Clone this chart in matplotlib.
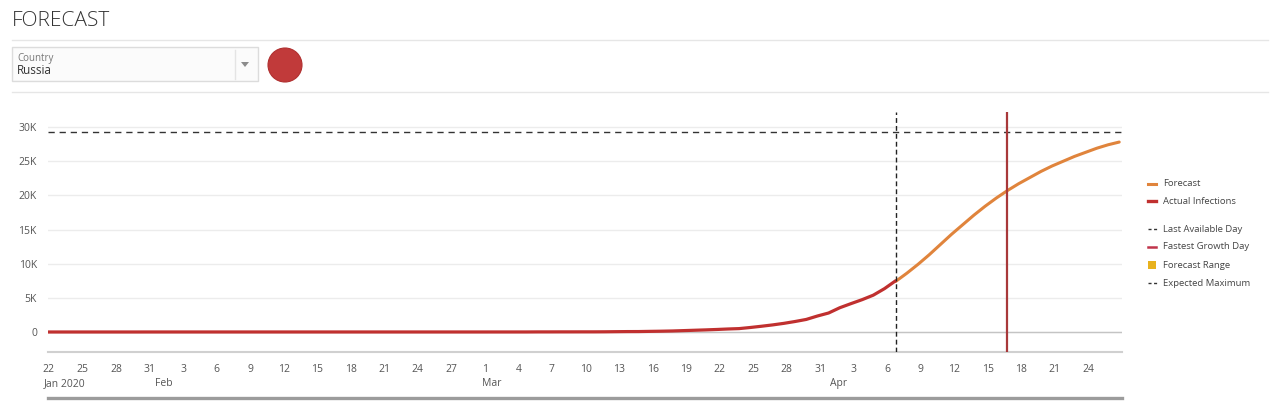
import matplotlib
matplotlib.use("Agg")
import matplotlib.pyplot as plt
from matplotlib.lines import Line2D
from matplotlib.patches import Rectangle, Ellipse, Polygon
import pandas as pd

plt.rcParams['font.family'] = ['Open Sans', 'DejaVu Sans']

# ---------------- data ----------------
# Actual confirmed infections, Russia, daily from 22 Jan 2020 to 7 Apr 2020
actual_start = '2020-01-21 18:00'   # series timestamps are shown 6 h earlier (time-zone shift)
actual_values = [0, 0, 0, 0, 0, 0, 0, 0, 0, 2,
                 2, 2, 2, 2, 2, 2, 2, 2, 2, 2, 2, 2, 2, 2, 2,
                 2, 2, 2, 2, 2, 2, 2, 2, 2, 2, 2, 2, 2, 2,
                 2, 3, 3, 3, 4, 13, 13, 17, 17, 20, 20, 28, 45, 59, 63, 90,
                 114, 147, 199, 253, 306, 367, 438, 495, 658, 840, 1036, 1264,
                 1534, 1836, 2337,
                 2777, 3548, 4149, 4731, 5389, 6343, 7497]
# Forecast, daily from 7 Apr to 27 Apr 2020
forecast_start = '2020-04-06 18:00'
forecast_values = [7400, 8600, 9900, 11300, 12800, 14300, 15700, 17100, 18400,
                   19600, 20700, 21700, 22600, 23500, 24300, 25000, 25700,
                   26300, 26900, 27400, 27800]
last_available_day = '2020-04-06 18:00'
fastest_growth_day = '2020-04-16 18:00'
expected_maximum = 29270

y_ticks = [0, 5000, 10000, 15000, 20000, 25000, 30000]
y_tick_labels = ['0', '5K', '10K', '15K', '20K', '25K', '30K']
x_tick_first = '2020-01-22'
x_tick_last = '2020-04-24'
month_labels = [('2020-01-21 12:00', 'Jan 2020'), ('2020-01-31 12:00', 'Feb'),
                ('2020-02-29 18:00', 'Mar'), ('2020-03-31 21:00', 'Apr')]
legend_items = ['Forecast', 'Actual Infections', 'Last Available Day',
                'Fastest Growth Day', 'Forecast Range', 'Expected Maximum']

# ---------------- figure ----------------
W, H = 1280, 408
fig = plt.figure(figsize=(W / 100, H / 100), dpi=100)
fig.patch.set_facecolor('white')


def fx(px):
    return px / W


def fy(py):
    return 1 - py / H


# header
fig.text(fx(12), fy(21), 'FORECAST', fontsize=15, color='#333333',
         fontweight='light', va='center', ha='left')
for yy in (40, 92):
    fig.add_artist(Line2D([fx(12), fx(1268)], [fy(yy), fy(yy)], color='#e6e6e6', lw=1))

# dropdown
fig.add_artist(Rectangle((fx(12), fy(81)), fx(258) - fx(12), fy(47) - fy(81),
                         transform=fig.transFigure, facecolor='#fbfbfb',
                         edgecolor='#dcdcdc', lw=1))
fig.add_artist(Line2D([fx(235), fx(235)], [fy(50), fy(79)], color='#e4e4e4', lw=1))
fig.add_artist(Polygon([(fx(241), fy(62)), (fx(249), fy(62)), (fx(245), fy(67))],
                       closed=True, transform=fig.transFigure, facecolor='#8c8c8c',
                       edgecolor='none'))
fig.text(fx(17), fy(58), 'Country', fontsize=7, color='#777777', va='center', ha='left')
fig.text(fx(17), fy(71), 'Russia', fontsize=8.5, color='#333333', va='center', ha='left')
fig.add_artist(Ellipse((fx(285), fy(65)), 34 / W, 34 / H, transform=fig.transFigure,
                       facecolor='#c13a3a', edgecolor='#b03030', lw=0.8))

# ---------------- axes ----------------
ax = fig.add_axes([fx(48), fy(352), fx(1122) - fx(48), fy(112) - fy(352)])
ax.set_facecolor('white')

actual_dates = pd.date_range(actual_start, periods=len(actual_values), freq='D')
forecast_dates = pd.date_range(forecast_start, periods=len(forecast_values), freq='D')

ax.yaxis.grid(True, color='#ececec', lw=1)
ax.set_axisbelow(True)
ax.axhline(0, color='#c4c4c4', lw=1, zorder=1)

ax.plot(forecast_dates, forecast_values, color='#e0843c', lw=2.2, zorder=3,
        solid_capstyle='round', solid_joinstyle='round')
ax.plot(actual_dates, actual_values, color='#c0302f', lw=2.3, zorder=4,
        solid_capstyle='round', solid_joinstyle='round')

ax.axhline(expected_maximum, color='#333333', lw=1, dashes=(4.5, 3.5), zorder=2)
ax.axvline(pd.Timestamp(last_available_day), color='#222222', lw=1, dashes=(3.5, 2.2), zorder=5)
ax.axvline(pd.Timestamp(fastest_growth_day), color='#a8383a', lw=1.6, zorder=5)

ax.set_xlim(pd.Timestamp('2020-01-22') - pd.Timedelta(hours=2),
            pd.Timestamp('2020-04-27'))
ax.set_ylim(-2930, 32200)

ax.set_yticks(y_ticks)
ax.set_yticklabels(y_tick_labels)
xt = pd.date_range(x_tick_first, x_tick_last, freq='3D')
ax.set_xticks(xt)
ax.set_xticklabels([str(d.day) for d in xt])
ax.tick_params(axis='both', length=0, labelsize=7.5, labelcolor='#555555')
ax.tick_params(axis='x', pad=9)
ax.tick_params(axis='y', pad=8)

for s in ('top', 'right', 'left'):
    ax.spines[s].set_visible(False)
ax.spines['bottom'].set_color('#d0d0d0')
ax.spines['bottom'].set_linewidth(1.5)

trans = ax.get_xaxis_transform()
for d, lab in month_labels:
    ax.text(pd.Timestamp(d), -0.13, lab, transform=trans, fontsize=7.5,
            color='#555555', ha='left', va='center')

# bottom grey bar (overview scroll bar)
fig.add_artist(Line2D([fx(48), fx(1122)], [fy(398), fy(398)], color='#9c9c9c', lw=2.4))

# ---------------- legend ----------------
leg_y = [184, 201, 229, 247, 265, 283]
for lab, yy in zip(legend_items, leg_y):
    if lab == 'Forecast':
        fig.add_artist(Line2D([fx(1148), fx(1156)], [fy(yy), fy(yy)], color='#e0843c', lw=2.2))
    elif lab == 'Actual Infections':
        fig.add_artist(Line2D([fx(1148), fx(1156)], [fy(yy), fy(yy)], color='#c0302f', lw=2.4))
    elif lab in ('Last Available Day', 'Expected Maximum'):
        fig.add_artist(Line2D([fx(1148), fx(1157)], [fy(yy), fy(yy)], color='#333333',
                              lw=1, dashes=(2.2, 1.8)))
    elif lab == 'Fastest Growth Day':
        fig.add_artist(Line2D([fx(1148), fx(1156)], [fy(yy), fy(yy)], color='#c0344a', lw=1.8))
    elif lab == 'Forecast Range':
        fig.add_artist(Rectangle((fx(1148), fy(yy + 4)), 8 / W, 8 / H,
                                 transform=fig.transFigure, facecolor='#e8b21e',
                                 edgecolor='none'))
    fig.text(fx(1163), fy(yy), lab, fontsize=6.8, color='#444444', va='center', ha='left')

fig.savefig('out.png', dpi=100, facecolor='white')
